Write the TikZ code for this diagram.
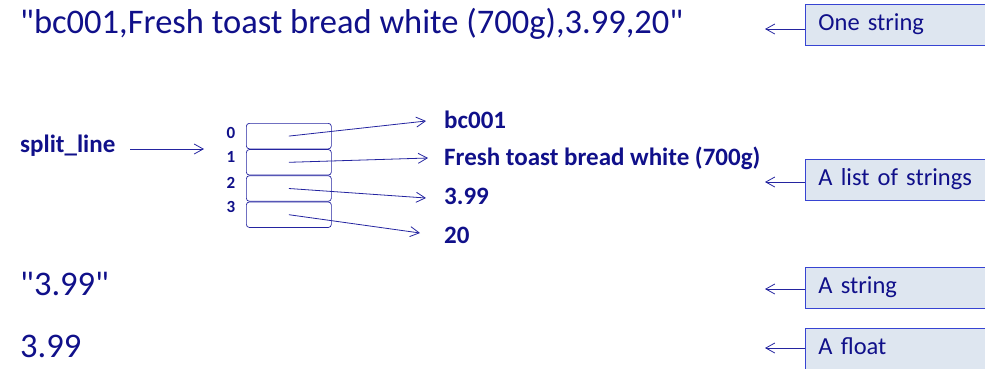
\documentclass[tikz,border=0pt]{standalone}
\usepackage{fontspec}
\setmainfont{Carlito}[Ligatures=TeXOff]
\usetikzlibrary{arrows.meta,positioning}
\definecolor{ink}{RGB}{16,16,138}
\definecolor{wire}{RGB}{36,36,160}
\definecolor{tagedge}{RGB}{55,68,210}
\definecolor{tagfill}{RGB}{222,230,240}
\newcommand{\dq}{\char34 }
\tikzset{
  tip/.style={wire, line width=0.8pt, -{Straight Barb[length=9pt,width=10pt]}},
  bigtext/.style={text=ink, font=\fontsize{34.5}{38}\selectfont, anchor=base west, inner sep=0pt},
  valtext/.style={text=ink, font=\fontsize{25}{28}\selectfont\bfseries, anchor=base west, inner sep=0pt},
  idxtext/.style={text=ink, font=\fontsize{17}{19}\selectfont\bfseries, anchor=base, inner sep=0pt},
  cell/.style={draw=wire, line width=0.7pt, rounded corners=3pt, minimum width=85pt, minimum height=25.5pt, inner sep=0pt},
  tagbox/.style={draw=tagedge, fill=tagfill, line width=0.9pt, anchor=north west,
    minimum width=190pt, minimum height=41pt, text width=164pt, inner xsep=13pt, align=left,
    text=ink, font=\fontsize{24.5}{28}\selectfont},
}
\begin{document}
\begin{tikzpicture}[x=1pt,y=-1pt]
\useasboundingbox (0,0) rectangle (985,368);
\clip (0,0) rectangle (985,368);

% strings and values on the left
\node[bigtext] (whole) at (20,33) {\dq bc001,Fresh toast bread white (700g),3.99,20\dq};
\node[bigtext] (qstr) at (20,295) {\dq 3.99\dq};
\node[bigtext] (flt) at (20,357) {3.99};

% the split list
\node[valtext] (name) at (20,152) {split\_line};
\node[cell, anchor=north west] (c0) at (246,123) {};
\node[cell, anchor=north] (c1) at (c0.south) {};
\node[cell, anchor=north] (c2) at (c1.south) {};
\node[cell, anchor=north] (c3) at (c2.south) {};
\node[idxtext] (i0) at (231,138) {0};
\node[idxtext] (i1) at (231,162) {1};
\node[idxtext] (i2) at (231,188) {2};
\node[idxtext] (i3) at (231,212) {3};
\coordinate (namearr) at (130,149);
\coordinate (listin) at (204,149);
\draw[tip] (namearr) -- (listin);

\node[valtext] (v0) at (444,128) {bc001};
\node[valtext] (v1) at (444,165) {Fresh toast bread white (700g)};
\node[valtext] (v2) at (444,204) {3.99};
\node[valtext] (v3) at (444,243) {20};
\coordinate (e0) at (426,121);
\coordinate (e1) at (428,158);
\coordinate (e2) at (426,198);
\coordinate (e3) at (420,233);
\draw[tip] (c0.center) -- (e0);
\draw[tip] (c1.center) -- (e1);
\draw[tip] (c2.center) -- (e2);
\draw[tip] (c3.center) -- (e3);

% type tags on the right
\node[tagbox] (t0) at (805,4) {\strut One string};
\node[tagbox] (t1) at (805,159) {\strut A list of strings};
\node[tagbox] (t2) at (805,267) {\strut A string};
\node[tagbox] (t3) at (805,328) {\strut A float};
\coordinate (p0) at (765,29);
\coordinate (p1) at (765,182);
\coordinate (p2) at (765,289);
\coordinate (p3) at (765,348);
\draw[tip] (t0.west |- p0) -- (p0);
\draw[tip] (t1.west |- p1) -- (p1);
\draw[tip] (t2.west |- p2) -- (p2);
\draw[tip] (t3.west |- p3) -- (p3);
\end{tikzpicture}
\end{document}
